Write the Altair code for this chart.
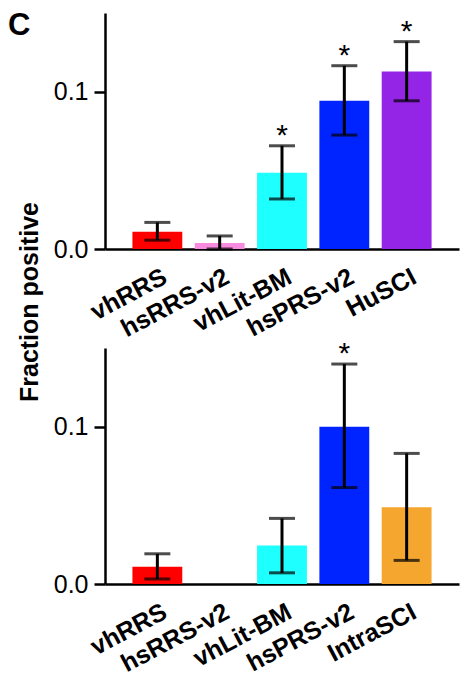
import altair as alt
import pandas as pd

# ---- data ----
categories_top = ["vhRRS", "hsRRS-v2", "vhLit-BM", "hsPRS-v2", "HuSCI"]
values_top = [0.0110, 0.0038, 0.0485, 0.0942, 0.1128]
lower_top = [0.0056, 0.0000, 0.0318, 0.0724, 0.0942]
upper_top = [0.0169, 0.0083, 0.0656, 0.1165, 0.1318]
sig_top = ["", "", "*", "*", "*"]

categories_bottom = ["vhRRS", "hsRRS-v2", "vhLit-BM", "hsPRS-v2", "IntraSCI"]
values_bottom = [0.0110, 0.0, 0.0245, 0.1000, 0.0488]
lower_bottom = [0.0032, None, 0.0071, 0.0613, 0.0150]
upper_bottom = [0.0192, None, 0.0417, 0.1398, 0.0830]
sig_bottom = ["", "", "", "*", ""]

color_domain = ["vhRRS", "hsRRS-v2", "vhLit-BM", "hsPRS-v2", "HuSCI", "IntraSCI"]
color_range = ["#FF0000", "#F88BE0", "#1EFFFF", "#0024FF", "#9424E6", "#F4A62E"]

panel_label = ["C"]
y_title = ["Fraction positive"]

FONT = "Liberation Sans"
W, H = 354, 236


def panel(cats, vals, lo, hi, sig, extras=False):
    df = pd.DataFrame({"cat": cats, "value": vals, "lower": lo, "upper": hi, "sig": sig})
    xscale = alt.Scale(paddingInner=0.2, paddingOuter=0.44)
    x = alt.X(
        "cat:N", sort=cats, scale=xscale,
        axis=alt.Axis(
            title=None, labelAngle=-28, labelAlign="right", labelBaseline="top",
            labelPadding=15, labelOffset=2, ticks=False, tickSize=0,
            labelFont=FONT, labelFontWeight="bold", labelFontSize=25,
            labelColor="black", domainColor="black", domainWidth=2.5,
        ),
    )
    xs = alt.X("cat:N", sort=cats, scale=xscale)
    yscale = alt.Scale(domain=[0, 0.15], nice=False, zero=True)
    y = alt.Y(
        "value:Q", scale=yscale,
        axis=alt.Axis(
            title=None, values=[0, 0.1], format=".1f", grid=False,
            tickSize=11, tickWidth=2.5, tickColor="black",
            domainWidth=2.5, domainColor="black",
            labelFont=FONT, labelFontSize=25, labelColor="black", labelPadding=6,
        ),
    )
    base = alt.Chart(df)
    bars = base.mark_bar().encode(
        x=x, y=y,
        color=alt.Color("cat:N", scale=alt.Scale(domain=color_domain, range=color_range), legend=None),
    )
    stem = base.mark_rule(strokeWidth=3, color="black").encode(
        x=xs, y=alt.Y("lower:Q", scale=yscale), y2="upper:Q"
    )
    cap_lo = base.mark_tick(size=26, thickness=3, color="black", orient="horizontal").encode(
        x=xs, y=alt.Y("lower:Q", scale=yscale)
    )
    cap_hi = base.mark_tick(size=26, thickness=3, color="black", orient="horizontal").encode(
        x=xs, y=alt.Y("upper:Q", scale=yscale)
    )
    stars = base.mark_text(baseline="bottom", fontSize=30, font=FONT, color="black", dy=5).encode(
        x=xs, y=alt.Y("upper:Q", scale=yscale), text="sig:N"
    )
    layers = [bars, stem, cap_lo, cap_hi, stars]
    if extras:
        c_lab = alt.Chart(pd.DataFrame({"t": panel_label})).mark_text(
            font=FONT, fontSize=31, fontWeight="bold", align="left", baseline="top", color="black"
        ).encode(x=alt.value(-97), y=alt.value(-2), text="t:N")
        ttl = alt.Chart(pd.DataFrame({"t": y_title})).mark_text(
            font=FONT, fontSize=25, fontWeight="bold", align="center",
            baseline="alphabetic", angle=270, color="black"
        ).encode(x=alt.value(-67), y=alt.value(289), text="t:N")
        layers += [c_lab, ttl]
    return alt.layer(*layers).properties(width=W, height=H)


top = panel(categories_top, values_top, lower_top, upper_top, sig_top, extras=True)
bottom = panel(categories_bottom, values_bottom, lower_bottom, upper_bottom, sig_bottom)

chart = (
    alt.vconcat(top, bottom, spacing=99, bounds="flush")
    .resolve_scale(x="independent")
    .properties(padding={"left": 0, "top": 2, "right": 5, "bottom": 5})
    .configure_view(stroke=None)
)

chart.save("out.html", embed_options={"renderer": "svg", "actions": False})
